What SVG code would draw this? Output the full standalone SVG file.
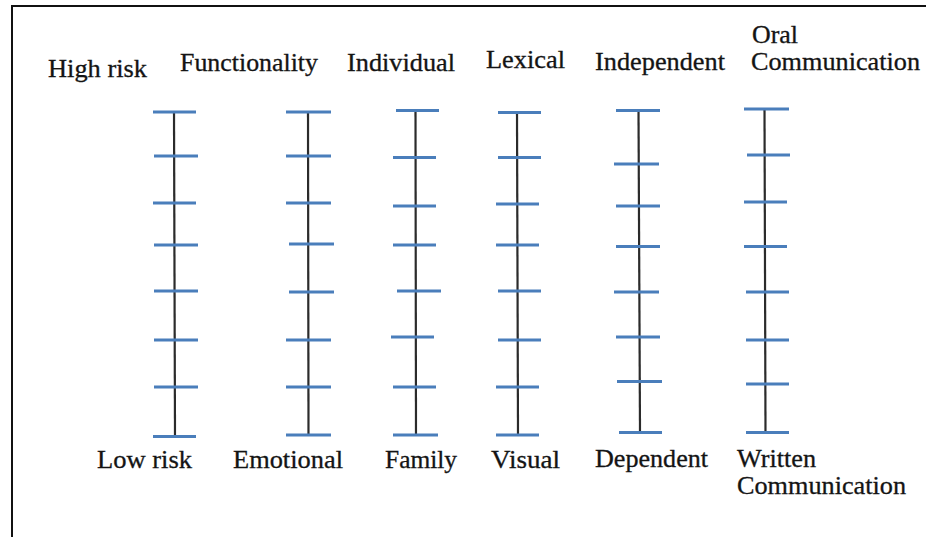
<svg xmlns="http://www.w3.org/2000/svg" width="926" height="537" viewBox="0 0 926 537">
<style>
.frame{fill:none;stroke:#111;stroke-width:2}
.axis{stroke:#2b2b2b;stroke-width:2.2}
.tick{stroke:#4a7ebb;stroke-width:3}
.lbl{fill:#141414;stroke:#141414;stroke-width:0.3}
</style>
<rect width="926" height="537" fill="#fff"/>
<polyline class="frame" points="12,540 12,6 930,6"/>
<g font-family="Liberation Serif" font-size="24.5">
<g id="scale-risk">
<text class="lbl" x="48" y="77" textLength="99" lengthAdjust="spacingAndGlyphs">High risk</text>
<text class="lbl" x="97" y="468" textLength="95" lengthAdjust="spacingAndGlyphs">Low risk</text>
<line class="axis" x1="174" y1="112" x2="175" y2="436"/>
<line class="tick" x1="153" y1="112" x2="196" y2="112"/>
<line class="tick" x1="154" y1="156" x2="198" y2="156"/>
<line class="tick" x1="153" y1="203" x2="196" y2="203"/>
<line class="tick" x1="154" y1="245" x2="198" y2="245"/>
<line class="tick" x1="154" y1="291" x2="198" y2="291"/>
<line class="tick" x1="154" y1="340" x2="198" y2="340"/>
<line class="tick" x1="154" y1="387" x2="198" y2="387"/>
<line class="tick" x1="153" y1="436.5" x2="196" y2="436.5"/>
</g>
<g id="scale-functionality">
<text class="lbl" x="180" y="71" textLength="138" lengthAdjust="spacingAndGlyphs">Functionality</text>
<text class="lbl" x="233" y="468" textLength="110" lengthAdjust="spacingAndGlyphs">Emotional</text>
<line class="axis" x1="308" y1="112" x2="308.5" y2="435"/>
<line class="tick" x1="286" y1="112" x2="331" y2="112"/>
<line class="tick" x1="286" y1="156" x2="331" y2="156"/>
<line class="tick" x1="286" y1="203" x2="331" y2="203"/>
<line class="tick" x1="289" y1="244" x2="334" y2="244"/>
<line class="tick" x1="289" y1="292" x2="334" y2="292"/>
<line class="tick" x1="286" y1="340" x2="331" y2="340"/>
<line class="tick" x1="286" y1="387" x2="331" y2="387"/>
<line class="tick" x1="286" y1="435" x2="331" y2="435"/>
</g>
<g id="scale-individual">
<text class="lbl" x="347" y="71" textLength="108" lengthAdjust="spacingAndGlyphs">Individual</text>
<text class="lbl" x="385" y="468" textLength="72" lengthAdjust="spacingAndGlyphs">Family</text>
<line class="axis" x1="415.5" y1="111" x2="416" y2="435"/>
<line class="tick" x1="396" y1="110.5" x2="439" y2="110.5"/>
<line class="tick" x1="393" y1="157.5" x2="436" y2="157.5"/>
<line class="tick" x1="393" y1="206" x2="436" y2="206"/>
<line class="tick" x1="393" y1="245" x2="436" y2="245"/>
<line class="tick" x1="397" y1="291" x2="441" y2="291"/>
<line class="tick" x1="391" y1="337" x2="434" y2="337"/>
<line class="tick" x1="393" y1="387" x2="436" y2="387"/>
<line class="tick" x1="393" y1="435" x2="438" y2="435"/>
</g>
<g id="scale-lexical">
<text class="lbl" x="486" y="68" textLength="79" lengthAdjust="spacingAndGlyphs">Lexical</text>
<text class="lbl" x="491" y="468" textLength="69" lengthAdjust="spacingAndGlyphs">Visual</text>
<line class="axis" x1="517" y1="113" x2="518" y2="435"/>
<line class="tick" x1="498" y1="112.5" x2="541" y2="112.5"/>
<line class="tick" x1="498" y1="157.5" x2="541" y2="157.5"/>
<line class="tick" x1="496" y1="204" x2="539" y2="204"/>
<line class="tick" x1="496" y1="245" x2="539" y2="245"/>
<line class="tick" x1="498" y1="291" x2="541" y2="291"/>
<line class="tick" x1="498" y1="340" x2="541" y2="340"/>
<line class="tick" x1="496" y1="387" x2="539" y2="387"/>
<line class="tick" x1="496" y1="435" x2="539" y2="435"/>
</g>
<g id="scale-independence">
<text class="lbl" x="595" y="70" textLength="130" lengthAdjust="spacingAndGlyphs">Independent</text>
<text class="lbl" x="595" y="467" textLength="113" lengthAdjust="spacingAndGlyphs">Dependent</text>
<line class="axis" x1="638.5" y1="110" x2="640" y2="432"/>
<line class="tick" x1="616" y1="110.5" x2="660" y2="110.5"/>
<line class="tick" x1="614" y1="164" x2="659" y2="164"/>
<line class="tick" x1="616" y1="206" x2="660" y2="206"/>
<line class="tick" x1="616" y1="246.5" x2="660" y2="246.5"/>
<line class="tick" x1="614" y1="292" x2="659" y2="292"/>
<line class="tick" x1="616" y1="337" x2="660" y2="337"/>
<line class="tick" x1="617" y1="381.5" x2="662" y2="381.5"/>
<line class="tick" x1="619" y1="432.5" x2="662" y2="432.5"/>
</g>
<g id="scale-communication">
<text class="lbl" x="752" y="43" textLength="46" lengthAdjust="spacingAndGlyphs">Oral</text>
<text class="lbl" x="751" y="70" textLength="169" lengthAdjust="spacingAndGlyphs">Communication</text>
<text class="lbl" x="737" y="467" textLength="79" lengthAdjust="spacingAndGlyphs">Written</text>
<text class="lbl" x="737" y="494" textLength="169" lengthAdjust="spacingAndGlyphs">Communication</text>
<line class="axis" x1="764.5" y1="109" x2="765.5" y2="432"/>
<line class="tick" x1="744" y1="109" x2="789" y2="109"/>
<line class="tick" x1="747" y1="155" x2="790" y2="155"/>
<line class="tick" x1="744" y1="202" x2="787" y2="202"/>
<line class="tick" x1="744" y1="246.5" x2="787" y2="246.5"/>
<line class="tick" x1="746" y1="292" x2="789" y2="292"/>
<line class="tick" x1="746" y1="340" x2="789" y2="340"/>
<line class="tick" x1="746" y1="384" x2="789" y2="384"/>
<line class="tick" x1="746" y1="432.5" x2="789" y2="432.5"/>
</g>
</g>
</svg>
